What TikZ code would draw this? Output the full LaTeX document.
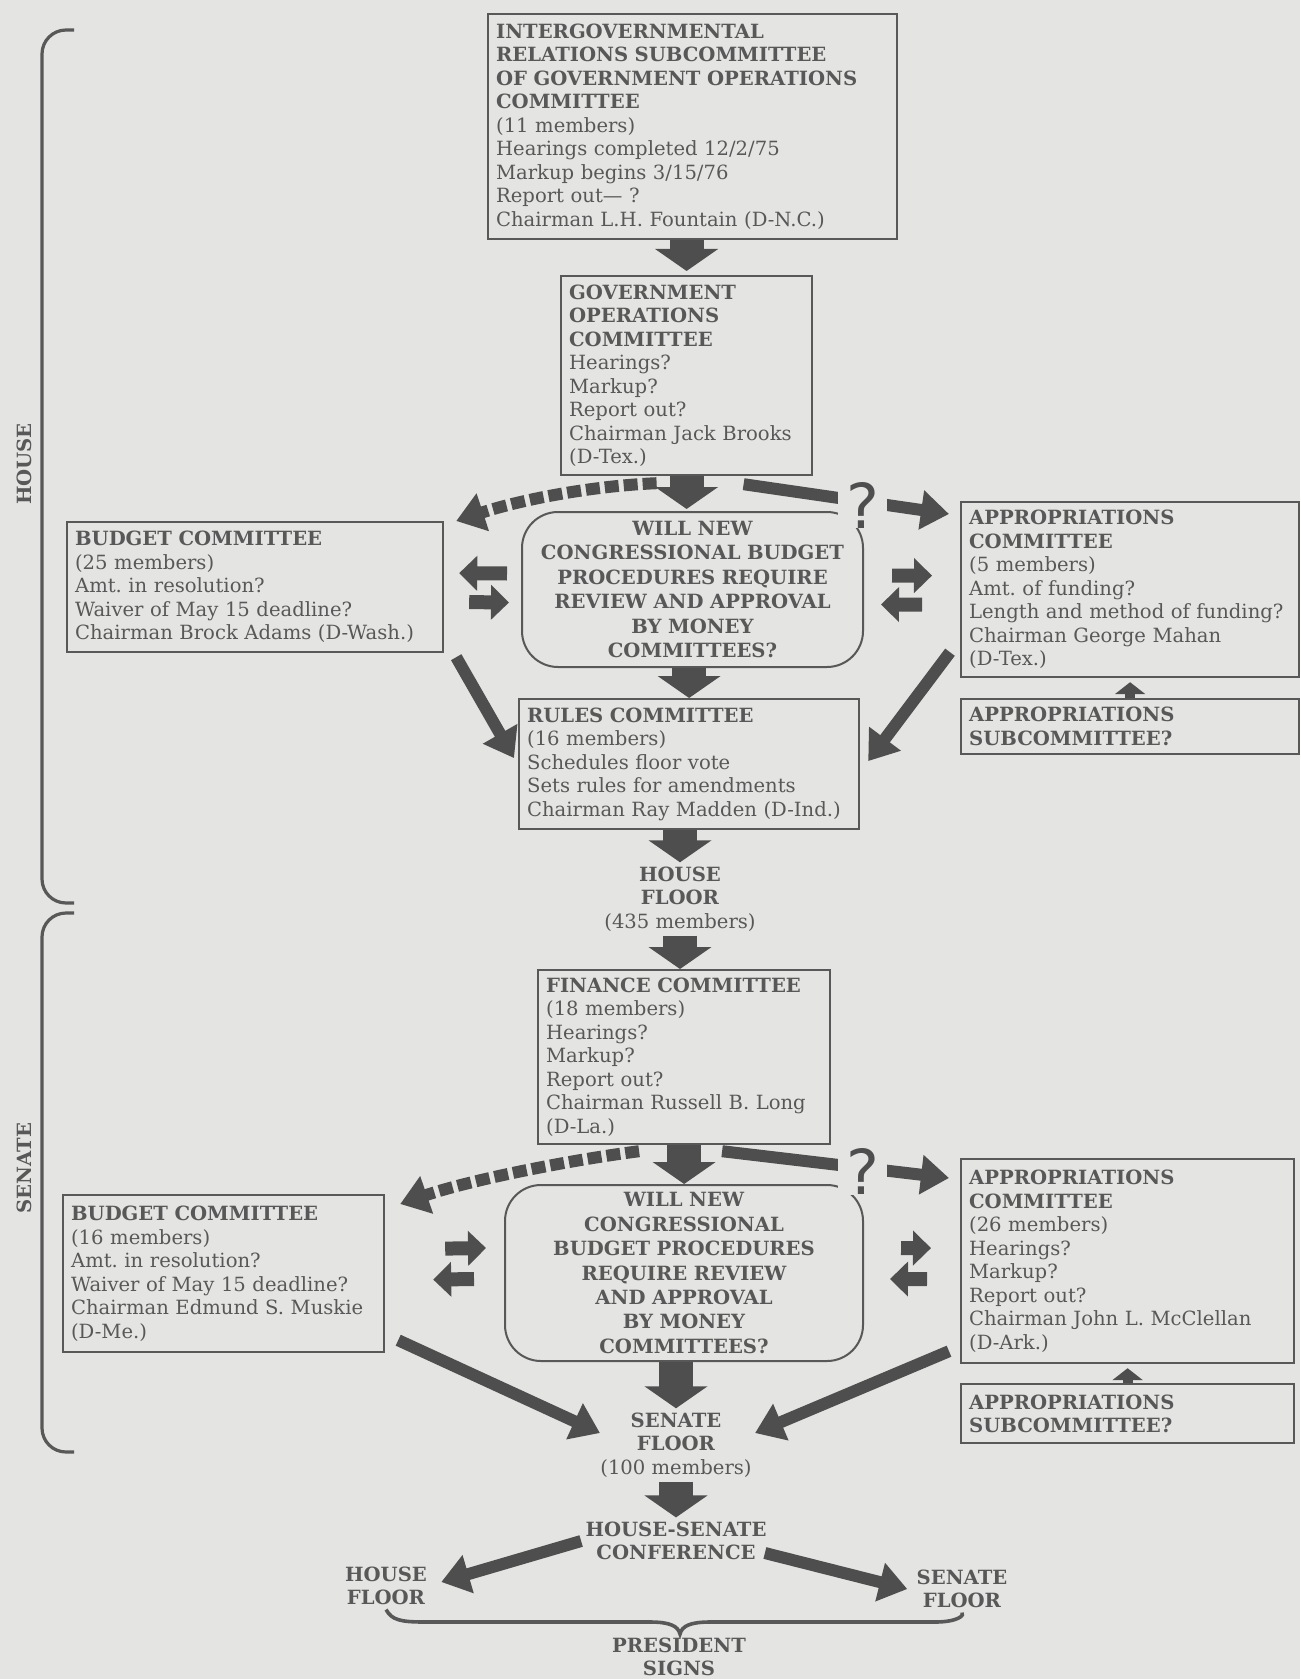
\documentclass[tikz,border=0pt]{standalone}
\usepackage{fontspec}
\setmainfont{DejaVu Serif}
\newfontfamily\qfont{DejaVu Sans}
\usepackage{tikz}
\usetikzlibrary{arrows.meta,calc}
\definecolor{paper}{RGB}{228,228,226}
\definecolor{ink}{RGB}{88,88,88}
\definecolor{arrowink}{RGB}{78,78,78}
\tikzset{
  committee/.style={
    draw=ink,
    line width=1.1pt,
    anchor=north west,
    align=left,
    inner xsep=4pt,
    inner ysep=3pt,
    text=ink,
    font=\fontsize{9.8}{11.75}\selectfont
  },
  willbox/.style={committee, align=center, rounded corners=18pt, line width=1pt,
    font=\fontsize{9.8}{12.2}\selectfont\bfseries},
  floortext/.style={align=center, inner sep=2pt, text=ink, font=\fontsize{9.8}{11.75}\selectfont},
  sidelabel/.style={rotate=90, inner sep=1pt, text=ink, font=\fontsize{9.8}{11}\selectfont\bfseries},
  qmark/.style={fill=paper, inner xsep=4pt, inner ysep=0pt, yshift=-2pt, text=arrowink,
    font=\qfont\fontsize{31}{31}\selectfont},
  blockarrow/.style={draw=arrowink, line width=17pt, -{Triangle[width=31pt,length=11pt]}},
  pairarrow/.style={draw=arrowink, line width=7pt, -{Triangle[width=17pt,length=9pt]}},
  stubarrow/.style={draw=arrowink, line width=5pt, -{Triangle[width=15pt,length=6pt]}},
  diag/.style={draw=arrowink, line width=6pt, -{Triangle[width=19pt,length=14pt]}},
  dashedarrow/.style={diag, dash pattern=on 7pt off 2.5pt},
  chamber/.style={draw=ink, line width=1.6pt, rounded corners=12pt},
  brace/.style={draw=ink, line width=1.8pt}
}

\begin{document}
\begin{tikzpicture}[x=0.5pt,y=-0.5pt]
  \fill[paper] (0,0) rectangle (1300,1679);
  \useasboundingbox (0,0) rectangle (1300,1679);

  % house side
  \draw[chamber] (74,30) -- (42,30) -- (42,903) -- (74,903);
  \node[sidelabel] (house) at (24,464) {HOUSE};

  \node[committee, text width=196.5pt, minimum height=112.5pt] (igr) at (487,13)
    {\textbf{INTERGOVERNMENTAL\\RELATIONS SUBCOMMITTEE\\OF GOVERNMENT OPERATIONS\\COMMITTEE}\\
     (11 members)\\Hearings completed 12/2/75\\Markup begins 3/15/76\\Report out— ?\\
     Chairman L.H. Fountain (D-N.C.)};
  \node[committee, text width=117.5pt, minimum height=99.5pt] (gov) at (560,275)
    {\textbf{GOVERNMENT\\OPERATIONS\\COMMITTEE}\\Hearings?\\Markup?\\Report out?\\
     Chairman Jack Brooks\\(D-Tex.)};
  \node[committee, text width=180pt, minimum height=65pt] (hbud) at (66,521)
    {\textbf{BUDGET COMMITTEE}\\(25 members)\\Amt.\ in resolution?\\
     Waiver of May 15 deadline?\\Chairman Brock Adams (D-Wash.)};
  \node[willbox, text width=162.5pt, minimum height=77.5pt] (hwill) at (521,511)
    {WILL NEW\\CONGRESSIONAL BUDGET\\PROCEDURES REQUIRE\\REVIEW AND APPROVAL\\
     BY MONEY\\COMMITTEES?};
  \node[committee, text width=161pt, minimum height=87.5pt] (happ) at (960,501)
    {\textbf{APPROPRIATIONS\\COMMITTEE}\\(5 members)\\Amt.\ of funding?\\
     Length and method of funding?\\Chairman George Mahan\\(D-Tex.)};
  \node[committee, text width=161pt, minimum height=27.5pt] (hsub) at (960,698)
    {\textbf{APPROPRIATIONS\\SUBCOMMITTEE?}};
  \node[committee, text width=162pt, minimum height=65pt] (rules) at (518,698)
    {\textbf{RULES COMMITTEE}\\(16 members)\\Schedules floor vote\\
     Sets rules for amendments\\Chairman Ray Madden (D-Ind.)};
  \node[floortext] (hfloor) at (680,899) {\textbf{HOUSE}\\\textbf{FLOOR}\\(435 members)};

  % senate side
  \draw[chamber] (74,913) -- (42,913) -- (42,1452) -- (74,1452);
  \node[sidelabel] (senate) at (24,1168) {SENATE};

  \node[committee, text width=138pt, minimum height=87pt] (fin) at (537,969)
    {\textbf{FINANCE COMMITTEE}\\(18 members)\\Hearings?\\Markup?\\Report out?\\
     Chairman Russell B. Long\\(D-La.)};
  \node[committee, text width=152.5pt, minimum height=78.5pt] (sbud) at (62,1194)
    {\textbf{BUDGET COMMITTEE}\\(16 members)\\Amt.\ in resolution?\\
     Waiver of May 15 deadline?\\Chairman Edmund S. Muskie\\(D-Me.)};
  \node[willbox, text width=171pt, minimum height=88pt] (swill) at (504,1184)
    {WILL NEW\\CONGRESSIONAL\\BUDGET PROCEDURES\\REQUIRE REVIEW\\AND APPROVAL\\
     BY MONEY\\COMMITTEES?};
  \node[committee, text width=158.5pt, minimum height=102pt] (sapp) at (960,1158)
    {\textbf{APPROPRIATIONS\\COMMITTEE}\\(26 members)\\Hearings?\\Markup?\\Report out?\\
     Chairman John L. McClellan\\(D-Ark.)};
  \node[committee, text width=158.5pt, minimum height=29.5pt] (ssub) at (960,1383)
    {\textbf{APPROPRIATIONS\\SUBCOMMITTEE?}};
  \node[floortext] (sfloor) at (676,1445) {\textbf{SENATE}\\\textbf{FLOOR}\\(100 members)};

  \node[floortext] (conf) at (676,1541) {\textbf{HOUSE-SENATE}\\\textbf{CONFERENCE}};
  \node[floortext] (hfloorb) at (386,1586) {\textbf{HOUSE}\\\textbf{FLOOR}};
  \node[floortext] (sfloorb) at (962,1589) {\textbf{SENATE}\\\textbf{FLOOR}};
  \node[floortext] (pres) at (679,1657) {\textbf{PRESIDENT}\\\textbf{SIGNS}};

  % house connectors
  \draw[blockarrow, shorten >=2pt] (gov.north |- igr.south) -- (gov.north);
  \draw[blockarrow, shorten >=1pt] (gov.south) -- (gov.south |- hwill.north);
  \draw[dashedarrow] ($(gov.south)+(-30,7)$) .. controls (590,486) and (520,500)
    .. ($(hbud.north east)+(12,0)$);
  \draw[diag] ($(gov.south)+(57,8)$) -- node[qmark, pos=0.58] (hq) {?}
    ($(happ.north west)+(-11,13)$);
  \draw[pairarrow] ($(hwill.west)+(-14,-16)$) -- ($(hbud.east)+(15,-14)$);
  \draw[pairarrow] ($(hbud.east)+(25,15)$) -- ($(hwill.west)+(-12,13)$);
  \draw[pairarrow] ($(hwill.east)+(28,-14)$) -- ($(happ.west)+(-28,-14)$);
  \draw[pairarrow] ($(happ.west)+(-38,15)$) -- ($(hwill.east)+(17,15)$);
  \draw[blockarrow] (rules.north |- hwill.south) -- (rules.north);
  \draw[diag] ($(hbud.south east)+(12,4)$) -- ($(rules.west)+(-4,-6)$);
  \draw[diag] ($(happ.south west)+(-10,-26)$) -- ($(rules.east)+(8,-3)$);
  \draw[stubarrow, shorten >=2pt] (hsub.north) -- (hsub.north |- happ.south);
  \draw[blockarrow] (hfloor.north |- rules.south) -- (hfloor.north);
  \draw[blockarrow] (hfloor.south) -- (hfloor.south |- fin.north);

  % senate connectors
  \draw[blockarrow] (fin.south) -- (fin.south |- swill.north);
  \draw[dashedarrow] ($(fin.south)+(-45,6)$) .. controls (570,1160) and (470,1180)
    .. ($(sbud.north east)+(15,10)$);
  \draw[diag] ($(fin.south)+(38,6)$) -- node[qmark, pos=0.62] (sq) {?}
    ($(sapp.north west)+(-11,20)$);
  \draw[pairarrow] ($(sbud.east)+(60,-25)$) -- ($(swill.west)+(-18,-25)$);
  \draw[pairarrow] ($(swill.west)+(-30,6)$) -- ($(sbud.east)+(48,6)$);
  \draw[pairarrow] ($(swill.east)+(37,-25)$) -- ($(sapp.west)+(-29,-13)$);
  \draw[pairarrow] ($(sapp.west)+(-33,18)$) -- ($(swill.east)+(26,6)$);
  \draw[diag] ($(sbud.south east)+(13,-13)$) -- ($(sfloor.west)+(4,-12)$);
  \draw[diag] ($(sapp.south west)+(-11,-13)$) -- ($(sfloor.east)+(-1,-12)$);
  \draw[stubarrow, shorten >=2pt] (ssub.north) -- (ssub.north |- sapp.south);
  \draw[blockarrow] (sfloor.north |- swill.south) -- (sfloor.north);
  \draw[blockarrow] (sfloor.south) -- (conf.north);
  \draw[diag] (conf.west) -- ($(hfloorb.east)+(10,-4)$);
  \draw[diag] ($(conf.east)+(-6,12)$) -- ($(sfloorb.west)+(-5,0)$);
  \draw[brace] (hfloorb.south) .. controls (392,1620) and (400,1622) .. (425,1622)
    -- (650,1622) .. controls (670,1622) and (678,1626) .. (680,1634)
    .. controls (682,1626) and (690,1622) .. (710,1622) -- (935,1622)
    .. controls (958,1622) and (965,1615) .. (sfloorb.south);
\end{tikzpicture}
\end{document}
